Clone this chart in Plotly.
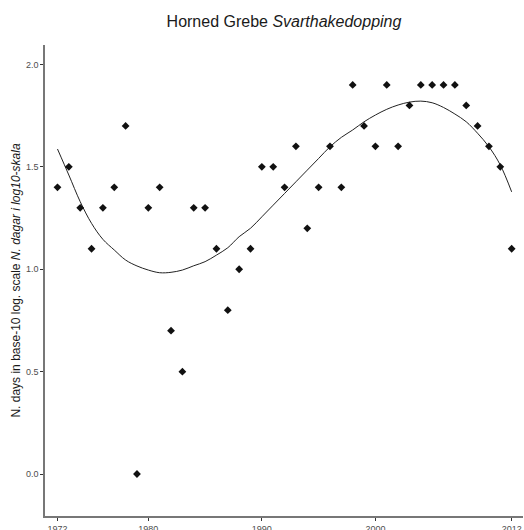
import plotly.graph_objects as go

# Observed data (log10 of number of days)
years = list(range(1972, 2013))
values = [1.4, 1.5, 1.3, 1.1, 1.3, 1.4, 1.7, 0.0, 1.3, 1.4,
          0.7, 0.5, 1.3, 1.3, 1.1, 0.8, 1.0, 1.1, 1.5, 1.5,
          1.4, 1.6, 1.2, 1.4, 1.6, 1.4, 1.9, 1.7, 1.6, 1.9,
          1.6, 1.8, 1.9, 1.9, 1.9, 1.9, 1.8, 1.7, 1.6, 1.5,
          1.1]

# Smoothed trend line
curve_years = list(range(1972, 2013))
curve_values = [1.587, 1.46, 1.33, 1.224, 1.146, 1.094, 1.045, 1.016, 0.996, 0.983,
                0.985, 0.996, 1.017, 1.037, 1.069, 1.105, 1.159, 1.20, 1.256, 1.313,
                1.37, 1.427, 1.484, 1.541, 1.598, 1.644, 1.68, 1.72, 1.753, 1.781,
                1.802, 1.816, 1.821, 1.813, 1.79, 1.758, 1.72, 1.664, 1.598, 1.509,
                1.378]

x_ticks = [1972, 1980, 1990, 2000, 2012]
y_ticks = [0.0, 0.5, 1.0, 1.5, 2.0]

fig = go.Figure()
fig.add_trace(go.Scatter(
    x=curve_years, y=curve_values, mode="lines",
    line=dict(color="#222222", width=1, shape="spline"),
    hoverinfo="skip", showlegend=False, cliponaxis=False))
fig.add_trace(go.Scatter(
    x=years, y=values, mode="markers",
    marker=dict(symbol="diamond", size=6, color="#111111"),
    showlegend=False, cliponaxis=False))

fig.update_layout(
    width=524, height=530,
    margin=dict(l=45, r=1, t=45, b=14),
    paper_bgcolor="white", plot_bgcolor="white",
    font=dict(family="Liberation Sans, Arial, sans-serif", color="#000000"),
    title=dict(text="Horned Grebe <i>Svarthakedopping</i>",
               x=0.5, xref="paper", xanchor="center",
               y=1 - 21 / 530, yref="container", yanchor="middle",
               font=dict(size=16, color="#1a1a1a")),
    xaxis=dict(range=[1970.9, 2013.0], tickvals=x_ticks,
               ticktext=[str(v) for v in x_ticks], automargin=False,
               showgrid=False, zeroline=False,
               showline=True, linecolor="#777777", linewidth=1.5,
               ticks="outside", ticklen=3, tickcolor="#333333", tickwidth=1,
               tickfont=dict(size=9, color="#4d4d4d")),
    yaxis=dict(range=[-0.205, 2.095], tickvals=y_ticks,
               ticktext=["%.1f" % v for v in y_ticks], automargin=False,
               showgrid=False, zeroline=False,
               showline=True, linecolor="#777777", linewidth=1.5,
               ticks="outside", ticklen=3, tickcolor="#333333", tickwidth=1,
               tickfont=dict(size=9, color="#4d4d4d"),
               title=dict(text="N. days in base-10 log. scale <i>N. dagar i log10-skala</i>",
                          font=dict(size=12, color="#1a1a1a"), standoff=3)),
)

fig.write_html(
    "out.html",
    config={"displayModeBar": False},
    post_script="document.body.style.margin='0';document.body.style.overflow='hidden';",
)
